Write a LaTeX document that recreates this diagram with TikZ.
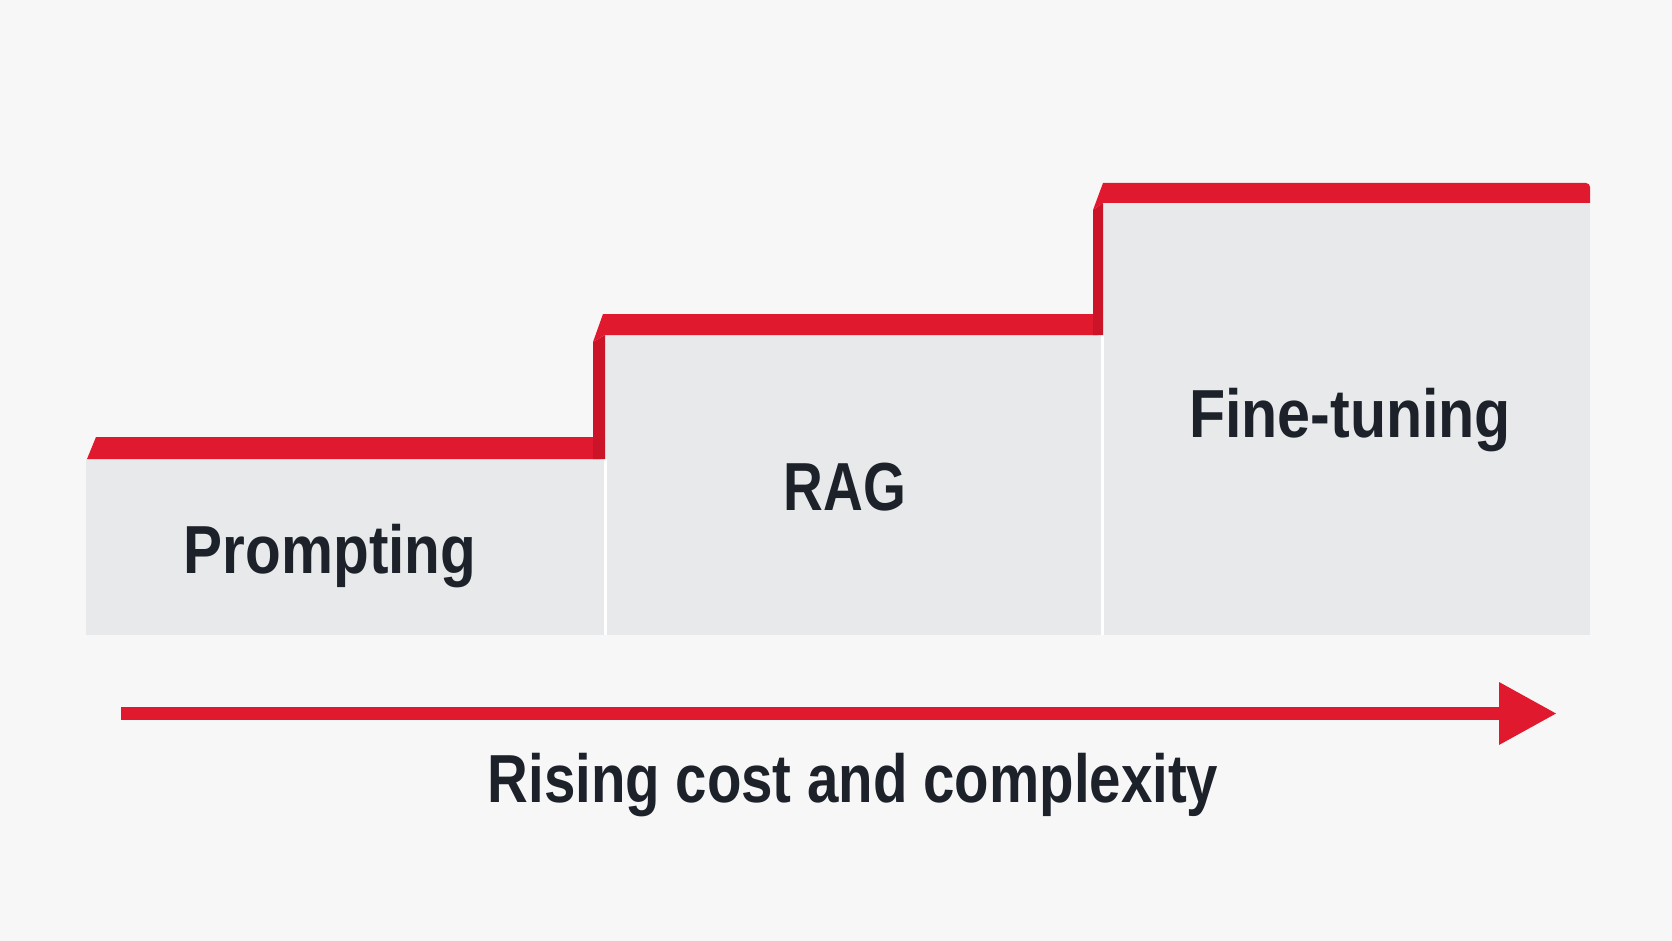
\documentclass[tikz,border=0pt]{standalone}
\usepackage{fontspec}
\setmainfont{Liberation Sans}
\definecolor{bg}{HTML}{F7F7F8}
\definecolor{boxgray}{HTML}{E8E9EB}
\definecolor{accent}{HTML}{E0192E}
\definecolor{accentdark}{HTML}{CC1428}
\definecolor{ink}{HTML}{1D2129}
\tikzset{
  stepbox/.style={fill=boxgray, draw=none},
  band/.style={fill=accent, draw=none},
  riser/.style={fill=accentdark, draw=none},
  gap/.style={draw=white, line width=3pt},
  lbl/.style={text=ink, font=\bfseries\fontsize{68}{80}\selectfont, anchor=base, inner sep=0pt},
}
\begin{document}
\begin{tikzpicture}[x=1pt,y=-1pt]
\fill[bg] (0,0) rectangle (1672,941);
\useasboundingbox (0,0) rectangle (1672,941);
% boxes
\fill[stepbox] (86,459) rectangle (605,635);
\fill[stepbox] (605,335) rectangle (1102,635);
\fill[stepbox] (1102,203) rectangle (1590,635);
\draw[gap] (605,459) -- (605,635);
\draw[gap] (1102,335) -- (1102,635);
% step 1 band
\fill[band] (87,459) -- (96,437) -- (600,437) -- (600,459) -- cycle;
% riser 1
\fill[riser] (593,459) -- (593,342) -- (605,335) -- (605,459) -- cycle;
\fill[band] (593,342) -- (603,314) -- (1098,314) -- (1098,335) -- (605,335) -- cycle;
% riser 2
\fill[riser] (1093,335) -- (1093,210) -- (1103,203) -- (1103,335) -- cycle;
\fill[band] (1093,210) -- (1103,183) [rounded corners=4pt]-- (1590,183) [sharp corners]-- (1590,203) -- (1103,203) -- cycle;
% labels
\node[lbl] (prompting) at (330,573) {\scalebox{0.86}[1]{Prompting}};
\node[lbl] (rag) at (845,510) {\scalebox{0.81}[1]{RAG}};
\node[lbl] (finetuning) at (1350,437) {\scalebox{0.87}[1]{Fine-tuning}};
% arrow
\coordinate (a0) at (121,713.5);
\coordinate (a1) at (1500,713.5);
\coordinate (tip) at (1556,713.5);
\draw[accent, line width=13pt] (a0) -- (a1);
\fill[accent] (1499,682) -- (tip) -- (1499,745) -- cycle;
\node[lbl] (caption) at (853,802) {\scalebox{0.83}[1]{Rising cost and complexity}};
\end{tikzpicture}
\end{document}
